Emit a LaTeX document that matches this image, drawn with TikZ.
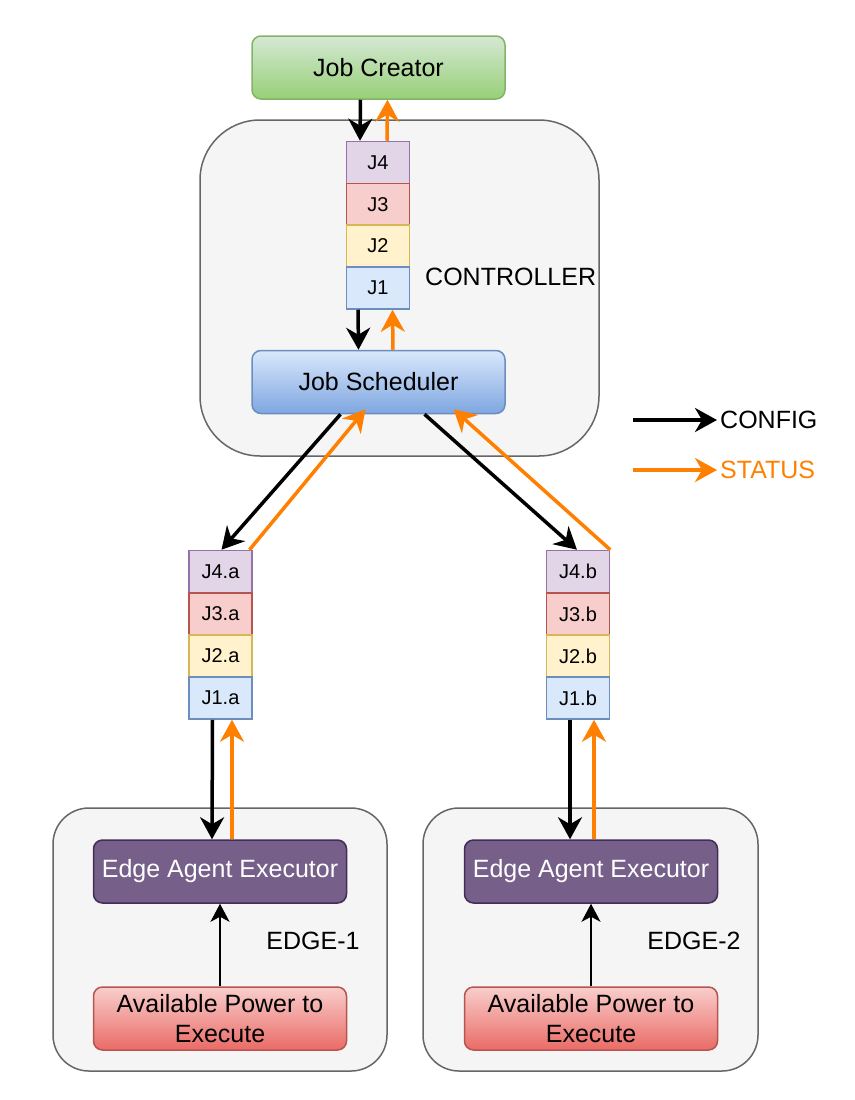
\documentclass[tikz,border=0pt]{standalone}
\usepackage{fontspec}
\setmainfont{Liberation Sans}
\usetikzlibrary{arrows.meta}
\definecolor{grnT}{HTML}{D5E8D4}\definecolor{grnB}{HTML}{97D077}\definecolor{grnD}{HTML}{82B366}
\definecolor{bluT}{HTML}{DAE8FC}\definecolor{bluB}{HTML}{7EA6E0}\definecolor{bluD}{HTML}{6C8EBF}
\definecolor{purF}{HTML}{E1D5E7}\definecolor{purD}{HTML}{9673A6}
\definecolor{redF}{HTML}{F8CECC}\definecolor{redD}{HTML}{B85450}\definecolor{redB}{HTML}{EA6B66}
\definecolor{yelF}{HTML}{FFF2CC}\definecolor{yelD}{HTML}{D6B656}
\definecolor{grayF}{HTML}{F5F5F5}\definecolor{grayD}{HTML}{666666}
\definecolor{agentF}{HTML}{76608A}\definecolor{agentD}{HTML}{432D57}
\definecolor{stat}{HTML}{FF8000}
\begin{document}
\begin{tikzpicture}[x=1pt,y=-1pt,
  big/.style={font=\fontsize{25}{30}\selectfont},
  small/.style={font=\fontsize{20}{24}\selectfont},
  box/.style={rounded corners=9pt,line width=1.5pt,minimum width=253pt,minimum height=63pt,inner sep=0pt,big,align=center},
  qcell/.style={line width=1.5pt,minimum width=63pt,minimum height=42pt,inner sep=0pt,small},
  q4/.style={qcell,draw=purD,fill=purF},
  q3/.style={qcell,draw=redD,fill=redF},
  q2/.style={qcell,draw=yelD,fill=yelF},
  q1/.style={qcell,draw=bluD,fill=bluT},
  tip/.style={-{Stealth[length=22pt,width=24pt,inset=7pt]}},
  cfg/.style={tip,line width=3.5pt,black},
  sts/.style={tip,line width=3.5pt,stat},
  thin/.style={-{Stealth[length=18pt,width=19pt,inset=5pt]},line width=2pt,black},
  lbl/.style={big,inner sep=0pt}
]
\useasboundingbox (0,0) rectangle (854,1100);
% containers
\node[draw=grayD,fill=grayF,line width=1.5pt,rounded corners=60pt,minimum width=399pt,minimum height=336pt] (ctrl) at (399.5,288) {};
\node[draw=grayD,fill=grayF,line width=1.5pt,rounded corners=36pt,minimum width=334pt,minimum height=263pt] (e1) at (220,939.5) {};
\node[draw=grayD,fill=grayF,line width=1.5pt,rounded corners=36pt,minimum width=335pt,minimum height=263pt] (e2) at (590.5,939.5) {};
% job creator
\node[box,draw=grnD,top color=grnT,bottom color=grnB] (jc) at (378.5,67.5) {Job Creator};
% top queue
\node[q4] (j4) at (378,162.5) {J4};
\node[q3] (j3) at (378,204.5) {J3};
\node[q2] (j2) at (378,246) {J2};
\node[q1] (j1) at (378,288) {J1};
\node[lbl,anchor=west] (ctl) at (425,277) {CONTROLLER};
% scheduler
\node[box,draw=bluD,top color=bluT,bottom color=bluB] (js) at (378.5,382) {Job Scheduler};
% left queue
\node[q4] (j4a) at (220.5,571.5) {J4.a};
\node[q3] (j3a) at (220.5,614) {J3.a};
\node[q2] (j2a) at (220.5,656) {J2.a};
\node[q1] (j1a) at (220.5,698) {J1.a};
% right queue
\node[q4] (j4b) at (578,571.5) {J4.b};
\node[q3] (j3b) at (578,614) {J3.b};
\node[q2] (j2b) at (578,656) {J2.b};
\node[q1] (j1b) at (578,698) {J1.b};
% edge 1
\node[box,draw=agentD,fill=agentF,text=white] (ea1) at (220,871.5) {Edge Agent Executor};
\node[box,draw=redD,top color=redF,bottom color=redB] (pw1) at (220,1018.5) {Available Power to\\Execute};
\node[lbl] (el1) at (313,941) {EDGE-1};
% edge 2
\node[box,draw=agentD,fill=agentF,text=white] (ea2) at (591,871.5) {Edge Agent Executor};
\node[box,draw=redD,top color=redF,bottom color=redB] (pw2) at (591,1018.5) {Available Power to\\Execute};
\node[lbl] (el2) at (694,941) {EDGE-2};
% connectors top
\draw[cfg] ([xshift=-18pt]jc.south) -- ([xshift=-18pt]j4.north);
\draw[sts] ([xshift=9pt]j4.north) -- ([xshift=9pt]jc.south);
\draw[cfg] ([xshift=-20pt]j1.south) -- ([xshift=-20pt]js.north);
\draw[sts] ([xshift=14.5pt]js.north) -- ([xshift=14.5pt]j1.south);
% diagonals
\draw[cfg] ([xshift=-38pt]js.south) -- ([xshift=1pt]j4a.north);
\draw[sts] ([xshift=29pt]j4a.north) -- ([xshift=-13pt,yshift=5pt]js.south);
\draw[cfg] ([xshift=46pt]js.south) -- ([xshift=-1pt]j4b.north);
\draw[sts] (j4b.north east) -- ([xshift=75pt,yshift=5pt]js.south);
% to edges
\draw[cfg] ([xshift=-8pt]j1a.south) -- ([xshift=-8pt]ea1.north);
\draw[sts] ([xshift=12pt]ea1.north) -- ([xshift=11.5pt]j1a.south);
\draw[cfg] ([xshift=-8pt]j1b.south) -- ([xshift=-21pt]ea2.north);
\draw[sts] ([xshift=3pt]ea2.north) -- ([xshift=16pt]j1b.south);
\draw[thin] (pw1.north) -- (ea1.south);
\draw[thin] (pw2.north) -- (ea2.south);
% legend
\coordinate (lc1) at (633,420);
\node[lbl,anchor=west] (lcfg) at (720,420) {CONFIG};
\draw[cfg] (lc1) -- ([xshift=-3pt]lcfg.west);
\coordinate (ls1) at (633,470);
\node[lbl,anchor=west,text=stat] (lsts) at (720,470) {STATUS};
\draw[sts] (ls1) -- ([xshift=-3pt]lsts.west);
\end{tikzpicture}
\end{document}
